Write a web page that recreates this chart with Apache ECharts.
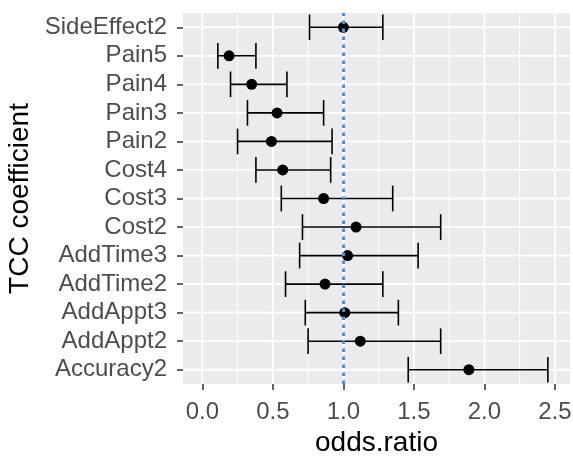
<!DOCTYPE html>
<html>
<head>
<meta charset="utf-8">
<script src="https://cdn.jsdelivr.net/npm/echarts@6/dist/echarts.min.js"></script>
<style>
    html, body { margin: 0; padding: 0; background: #fff; }
    #chart { width: 573px; height: 464px; }
</style>
</head>
<body>
<div id="chart"></div>
<script>
// bottom to top, same as the ggplot factor order
const coefficients = ['Accuracy2', 'AddAppt2', 'AddAppt3', 'AddTime2', 'AddTime3', 'Cost2',
    'Cost3', 'Cost4', 'Pain2', 'Pain3', 'Pain4', 'Pain5', 'SideEffect2']
const oddsRatio = [1.89, 1.12, 1.01, 0.87, 1.03, 1.09, 0.86, 0.57, 0.49, 0.53, 0.35, 0.19, 1.0]
const lowerCI = [1.46, 0.75, 0.73, 0.59, 0.69, 0.71, 0.56, 0.38, 0.25, 0.32, 0.20, 0.11, 0.76]
const upperCI = [2.45, 1.69, 1.39, 1.28, 1.53, 1.69, 1.35, 0.91, 0.92, 0.86, 0.60, 0.38, 1.28]
const xBreaks = [0, 0.5, 1, 1.5, 2, 2.5]
const xMinorBreaks = [0.25, 0.75, 1.25, 1.75, 2.25]
const refLine = 1

const font = 'Liberation Sans, Arial, sans-serif'

const chart = echarts.init(document.getElementById('chart'), null, { renderer: 'canvas' })

// white panel grid, drawn across the whole grid rect
const vGrid = [
    ...xMinorBreaks.map(v => [v, 1]),
    ...xBreaks.map(v => [v, 1.8])
]

const renderVGrid = (params, api) => {
    const r = params.coordSys
    const x = api.coord([api.value(0), 0])[0]
    return {
        type: 'line',
        shape: { x1: x, y1: r.y, x2: x, y2: r.y + r.height },
        style: { stroke: '#FFFFFF', lineWidth: api.value(1) }
    }
}

const renderHGrid = (params, api) => {
    const r = params.coordSys
    const y = api.coord([0, api.value(0)])[1]
    return {
        type: 'line',
        shape: { x1: r.x, y1: y, x2: r.x + r.width, y2: y },
        style: { stroke: '#FFFFFF', lineWidth: 1.8 }
    }
}

const renderErrorBar = (params, api) => {
    const y = api.value(2)
    const a = api.coord([api.value(0), y])
    const b = api.coord([api.value(1), y])
    const half = api.size([0, 1])[1] * 0.45
    const style = { stroke: '#000', lineWidth: 1.6 }
    return {
        type: 'group',
        children: [
            { type: 'line', shape: { x1: a[0], y1: a[1], x2: b[0], y2: b[1] }, style },
            { type: 'line', shape: { x1: a[0], y1: a[1] - half, x2: a[0], y2: a[1] + half }, style },
            { type: 'line', shape: { x1: b[0], y1: b[1] - half, x2: b[0], y2: b[1] + half }, style }
        ]
    }
}

const option = {
    animation: false,
    grid: {
        left: 183,
        right: 3,
        top: 13,
        bottom: 80,
        containLabel: false,
        outerBoundsMode: 'none',
        show: true,
        backgroundColor: '#EBEBEB',
        borderWidth: 0
    },
    xAxis: {
        type: 'value',
        min: -0.137,
        max: 2.607,
        name: 'odds.ratio',
        nameLocation: 'middle',
        nameGap: 36,
        nameTextStyle: { fontFamily: font, fontSize: 28, color: '#000' },
        axisLine: { show: false, onZero: false },
        splitLine: { show: false },
        axisTick: {
            show: true,
            customValues: xBreaks,
            length: 6,
            lineStyle: { color: '#333', width: 1.5 }
        },
        axisLabel: {
            customValues: xBreaks,
            margin: 16,
            fontFamily: font,
            fontSize: 24,
            color: '#4D4D4D',
            formatter: v => v.toFixed(1)
        }
    },
    yAxis: {
        type: 'category',
        data: coefficients,
        name: 'TCC coefficient',
        nameLocation: 'middle',
        nameGap: 148,
        nameTextStyle: { fontFamily: font, fontSize: 28, color: '#000' },
        axisLine: { show: false, onZero: false },
        splitLine: { show: false },
        axisTick: {
            show: true,
            interval: 0,
            alignWithLabel: true,
            length: 6,
            lineStyle: { color: '#333', width: 1.5 }
        },
        axisLabel: {
            interval: 0,
            margin: 16,
            fontFamily: font,
            fontSize: 24,
            color: '#4D4D4D'
        }
    },
    series: [
        {
            type: 'custom',
            z: 1,
            silent: true,
            data: vGrid,
            encode: { x: 0 },
            renderItem: renderVGrid
        },
        {
            type: 'custom',
            z: 1,
            silent: true,
            data: coefficients.map((c, i) => [i]),
            encode: { y: 0 },
            renderItem: renderHGrid
        },
        {
            type: 'custom',
            z: 3,
            silent: true,
            data: coefficients.map((c, i) => [lowerCI[i], upperCI[i], i]),
            encode: { x: [0, 1], y: 2 },
            renderItem: renderErrorBar
        },
        {
            type: 'scatter',
            z: 4,
            symbol: 'circle',
            symbolSize: 11,
            itemStyle: { color: '#000', opacity: 1 },
            data: coefficients.map((c, i) => [oddsRatio[i], c]),
            markLine: {
                z: 6,
                silent: true,
                symbol: 'none',
                label: { show: false },
                emphasis: { disabled: true },
                lineStyle: { color: '#4A90D9', width: 3, type: [3.5, 4.5] },
                data: [{ xAxis: refLine }]
            }
        }
    ]
}

chart.setOption(option)
</script>
</body>
</html>
